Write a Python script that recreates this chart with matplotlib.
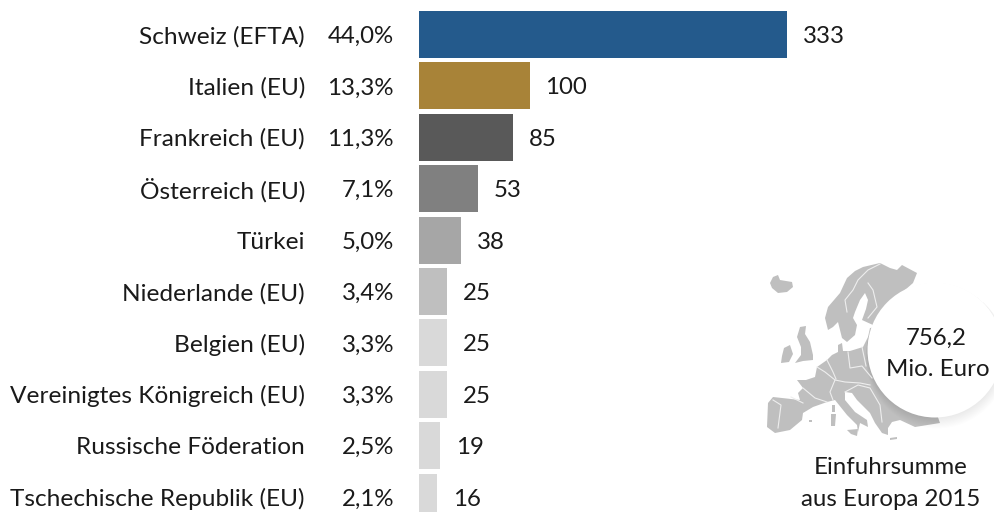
import numpy as np
import matplotlib
matplotlib.use('Agg')
import matplotlib.pyplot as plt
from matplotlib.patches import Circle, Polygon

plt.rcParams['font.family'] = ['Lato', 'DejaVu Sans']

COUNTRIES = ['Schweiz (EFTA)', 'Italien (EU)', 'Frankreich (EU)', 'Österreich (EU)', 'Türkei',
             'Niederlande (EU)', 'Belgien (EU)', 'Vereinigtes Königreich (EU)',
             'Russische Föderation', 'Tschechische Republik (EU)']
SHARES = ['44,0%', '13,3%', '11,3%', '7,1%', '5,0%', '3,4%', '3,3%', '3,3%', '2,5%', '2,1%']
VALUES = [333, 100, 85, 53, 38, 25, 25, 25, 19, 16]
COLORS = ['#245a8c', '#a88338', '#595959', '#808080', '#a6a6a6',
          '#bfbfbf', '#d9d9d9', '#d9d9d9', '#d9d9d9', '#d9d9d9']

# rough outline of the map, in pixels of the picture
MAP_NORTH = [(825, 318), (828, 307), (840, 293), (847, 278), (855, 271), (863, 267), (880, 263), (890, 268),
             (897, 270), (902, 265), (917, 273), (913, 283), (905, 290), (930, 340), (890, 345), (873, 325),
             (862, 320), (866, 309), (868, 300), (865, 293), (860, 300), (855, 312), (853, 318), (857, 325),
             (855, 335), (847, 342), (842, 338), (838, 322), (833, 327), (828, 330)]
MAP_MAIN = [(797, 380), (806, 380), (815, 377), (817, 367), (827, 360), (832, 355), (838, 352), (838, 345),
            (842, 343), (843, 351), (850, 351), (863, 347), (868, 337), (870, 328), (885, 326), (925, 380), (940, 423),
            (915, 427), (900, 420), (892, 422), (888, 428), (888, 435), (882, 433), (875, 423), (870, 413),
            (857, 400), (852, 393), (845, 392), (845, 400), (855, 412), (867, 420), (868, 427), (860, 423),
            (858, 432), (857, 425), (847, 415), (835, 400), (827, 402), (813, 407), (803, 413), (802, 420),
            (790, 430), (775, 433), (767, 427), (768, 403), (773, 397), (800, 400), (798, 393), (803, 388)]
MAP_UK = [(800, 327), (806, 326), (805, 334), (810, 342), (813, 355), (813, 360), (803, 361), (795, 363),
          (801, 355), (801, 347), (797, 337)]
MAP_IRELAND = [(784, 348), (790, 345), (793, 354), (789, 362), (781, 363), (782, 356)]
MAP_ICELAND = [(770, 283), (773, 277), (778, 275), (780, 280), (792, 282), (793, 287), (787, 292), (778, 293), (772, 288)]
MAP_ISLANDS = [[(832, 405), (835, 405), (835, 412), (832, 412)], [(831, 414), (836, 414), (835, 426), (831, 426)],
               [(847, 430), (858, 429), (857, 436), (851, 434)], [(809, 420), (812, 420), (812, 422), (809, 422)],
               [(890, 438), (897, 437), (897, 439), (890, 440)]]
MAP_BORDERS = [[(847, 312), (845, 300), (853, 290), (858, 280), (868, 270), (880, 264)],
               [(868, 283), (873, 290), (877, 307), (868, 318)],
               [(817, 367), (825, 372), (835, 380), (830, 392), (833, 400)],
               [(827, 360), (833, 372), (836, 379)],
               [(835, 380), (845, 382), (860, 383), (870, 385)],
               [(848, 352), (850, 368), (862, 366), (872, 378)],
               [(845, 392), (858, 385), (870, 388), (880, 405), (882, 422)],
               [(803, 388), (815, 398), (827, 402)],
               [(773, 400), (781, 405), (778, 428)],
               [(791, 397), (803, 403)],
               [(862, 347), (866, 366)]]


def main():
    fig = plt.figure(figsize=(9.95, 5.12), dpi=100)

    overlay = fig.add_axes([0, 0, 1, 1])
    overlay.set_xlim(0, 995)
    overlay.set_ylim(512, 0)
    overlay.axis('off')

    for shape in [MAP_MAIN, MAP_NORTH, MAP_UK, MAP_IRELAND, MAP_ICELAND] + MAP_ISLANDS:
        overlay.add_patch(Polygon(shape, closed=True, facecolor='#bfbfbf', edgecolor='none'))
    for line in MAP_BORDERS:
        xs, ys = zip(*line)
        overlay.plot(xs, ys, color='#eeeeee', linewidth=0.8)

    # soft shadow then the white disc
    for off in np.arange(20, 0, -2):
        overlay.add_patch(Circle((935 + off * 0.1, 350 + off * 0.35), 67.5 + off * 0.2,
                                 facecolor='#000000', alpha=0.008, edgecolor='none'))
    overlay.add_patch(Circle((935, 350), 67.5, facecolor='white', edgecolor='none'))

    overlay.text(936, 338, '756,2', ha='center', va='center', fontsize=17.3, color='#1a1a1a')
    overlay.text(938, 370, 'Mio. Euro', ha='center', va='center', fontsize=17.3, color='#1a1a1a')
    overlay.text(891, 468, 'Einfuhrsumme', ha='center', va='center', fontsize=17.3, color='#1a1a1a')
    overlay.text(891, 500, 'aus Europa 2015', ha='center', va='center', fontsize=17.3, color='#1a1a1a')

    ax = fig.add_axes([419 / 995, 0, 576 / 995, 1])
    ax.patch.set_alpha(0)
    ax.set_xlim(0, 576 / 1.105)
    ax.set_ylim((512 - 34.5) / 51.4, -34.5 / 51.4)
    ax.axis('off')

    ypos = np.arange(len(VALUES))
    ax.barh(ypos, VALUES, height=0.914, color=COLORS)

    for y, name, share, value in zip(ypos, COUNTRIES, SHARES, VALUES):
        ax.annotate(name, (0, y), xytext=(-114, -2), textcoords='offset pixels', ha='right', va='center',
                    fontsize=17.6, color='#1a1a1a', annotation_clip=False)
        ax.annotate(share, (0, y), xytext=(-25, -2), textcoords='offset pixels', ha='right', va='center',
                    fontsize=17.3, color='#1a1a1a', annotation_clip=False)
        ax.annotate(str(value), (value, y), xytext=(16, -2), textcoords='offset pixels', ha='left', va='center',
                    fontsize=17.3, color='#1a1a1a')

    fig.savefig('out.png', dpi=100)


if __name__ == '__main__':
    main()
